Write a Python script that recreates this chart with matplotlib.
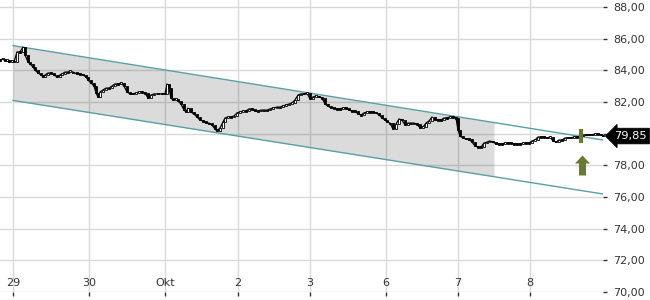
import numpy as np
import matplotlib
matplotlib.use("Agg")
import matplotlib.pyplot as plt
from matplotlib.path import Path
import matplotlib.transforms as mtransforms

# ---- data -------------------------------------------------------------
# time in intraday slots (0 = start of the 29th)
t = [-13, -10, -8, -6, -4, -1,
     1, 4, 7, 10, 12, 15, 17, 20, 22, 25, 28, 30, 32, 35, 38, 41, 44, 47, 49, 52,
     55, 57, 60, 64, 67, 70, 73, 75, 78, 81, 83, 85, 87, 90, 93, 96, 99, 102, 105,
     108, 111, 114, 117, 120, 123, 126, 129, 132, 135, 138, 141, 145, 149, 152, 154,
     156, 158, 160, 163, 165, 168, 171, 173, 175, 178, 181, 184, 187, 190, 193, 196,
     199, 202, 204, 207, 210, 212, 215, 218, 221, 224, 227, 230, 233, 236, 239, 242,
     245, 248, 251, 254, 257, 260, 264, 267, 270, 273, 276, 279, 282, 285, 288, 291,
     294, 297, 300, 303, 306, 309, 312, 315, 318, 321, 324, 327, 330, 333, 336, 339,
     342, 345, 348, 351, 354, 357, 360, 363, 366, 369, 372, 374, 377, 380, 383, 386,
     389, 392, 395, 398, 401, 404, 407, 410, 413, 416, 419, 422, 425, 428, 431, 434,
     437, 440, 443, 445, 447, 450, 453, 456, 459, 462, 465, 468, 471, 474, 477, 480,
     483, 486, 489, 492, 495, 498, 501, 504, 507, 510, 513, 516, 519, 522, 525, 528,
     531, 534, 537, 540, 543, 546, 549, 552, 555, 558, 561, 564, 567, 570, 573, 576,
     579, 582, 585, 588, 590]
close = [84.65, 84.72, 84.59, 84.65, 84.53, 84.59,
         84.53, 85.16, 85.16, 85.47, 84.97, 84.53, 84.40, 84.21, 84.02, 83.83, 83.71,
         83.58, 83.71, 83.83, 83.83, 83.71, 83.58, 83.71, 83.77, 83.89,
         83.89, 83.96, 83.89, 83.77, 83.77, 83.71, 83.58, 83.39, 83.20, 83.01, 82.57,
         82.32, 82.63, 82.76, 82.88, 82.88, 83.01, 83.14, 83.14,
         83.20, 83.01, 82.63, 82.51, 82.51, 82.57, 82.63, 82.63, 82.57, 82.25, 82.44,
         82.51, 82.51, 82.51, 82.51, 83.14,
         82.88, 82.25, 82.13, 82.19, 82.06, 81.87, 81.49, 81.37, 81.62, 81.37, 81.24,
         81.05, 80.86, 80.80, 80.67, 80.67,
         80.55, 80.29, 80.17, 80.36, 80.74, 80.99, 81.05, 81.05, 81.12, 81.31, 81.37,
         81.43, 81.43, 81.56, 81.56, 81.43,
         81.43, 81.49, 81.49, 81.49, 81.56, 81.62, 81.68, 81.68, 81.75, 81.81, 81.87,
         81.94, 82.13, 82.44, 82.51, 82.51,
         82.57, 82.19, 82.32, 82.38, 82.32, 82.25, 81.87, 81.75, 81.62, 81.62, 81.56,
         81.56, 81.62, 81.62, 81.49, 81.43,
         81.43, 81.24, 81.18, 81.31, 81.37, 81.37, 81.37, 81.31, 81.18, 80.99, 80.86,
         80.74, 80.67, 80.29, 80.61, 80.93,
         80.86, 80.55, 80.67, 80.67, 80.67, 80.61, 80.36, 80.42, 80.67, 80.80, 81.05,
         80.86, 80.86, 80.86, 80.99, 80.99,
         81.05, 81.05, 80.99, 80.23, 79.85, 79.73, 79.66, 79.66, 79.47, 79.22, 79.16,
         79.16, 79.41, 79.47, 79.54, 79.47,
         79.35, 79.35, 79.35, 79.41, 79.41, 79.41, 79.35, 79.35, 79.35, 79.41, 79.41,
         79.41, 79.54, 79.60, 79.79, 79.79,
         79.79, 79.73, 79.79, 79.54, 79.47, 79.60, 79.60, 79.73, 79.73, 79.73, 79.79,
         79.79, 79.85, 79.92, 79.92, 79.92,
         79.92, 79.98, 79.98, 79.92, 79.85]

day_ticks = [0, 76, 152, 225, 297, 373, 445, 517]
day_labels = ["29", "30", "Okt", "2", "3", "6", "7", "8"]
y_ticks = [70, 72, 74, 76, 78, 80, 82, 84, 86, 88]
hidden_y_label = 80  # covered by the last-price box in the original

channel_t = [0, 590]
channel_upper = [85.56, 79.60]
channel_lower = [82.10, 76.19]
channel_shade_end = 481

signal_t = 568
signal_high = 80.29
signal_low = 79.41

# ---- styles -----------------------------------------------------------
GRID = "#d9d9d9"
TEAL = "#5a9fa6"
OLIVE = "#6b7a33"
TXT = "#333333"

plt.rcParams["font.family"] = ["DejaVu Sans"]

fig = plt.figure(figsize=(6.5, 3.0), dpi=100)
ax = fig.add_axes([0, 8 / 300, 603 / 650, 292 / 300])
ax.set_xlim(-13, 590)
ax.set_ylim(70, 70 + 292 / (285 / 18))

for s in ax.spines.values():
    s.set_visible(False)

# grid / ticks
ax.set_xticks(day_ticks)
ax.set_xticklabels(day_labels)
ax.set_yticks(y_ticks)
ax.set_yticklabels(["" if v == hidden_y_label else f"{v:.2f}".replace(".", ",")
                    for v in y_ticks])
ax.grid(True, color=GRID, lw=1, zorder=0)
ax.set_axisbelow(True)
ax.yaxis.tick_right()
ax.tick_params(axis="y", direction="out", length=3, width=1, color=TXT,
               labelsize=8, labelcolor=TXT, pad=4.5)
ax.tick_params(axis="x", direction="out", length=3, width=1, color=TXT,
               labelsize=8, labelcolor=TXT, pad=-13)

# channel
ct = np.linspace(channel_t[0], channel_shade_end, 50)
up = np.interp(ct, channel_t, channel_upper)
lo = np.interp(ct, channel_t, channel_lower)
ax.fill_between(ct, lo, up, color="black", alpha=0.14, lw=0, zorder=1)
ax.plot(channel_t, channel_upper, color=TEAL, lw=1, zorder=2)
ax.plot(channel_t, channel_lower, color=TEAL, lw=1, zorder=2)

# price candles (open = previous close)
t_arr = np.array(t, dtype=float)
c_arr = np.array(close)
o_arr = np.concatenate([[c_arr[0]], c_arr[:-1]])
ax.plot(t_arr, c_arr, color="black", lw=0.9, zorder=3, clip_on=False)
flat = np.abs(c_arr - o_arr) < 0.07
bottoms = np.where(flat, c_arr - 0.035, np.minimum(o_arr, c_arr))
heights = np.where(flat, 0.07, np.abs(c_arr - o_arr))
colors = ["white" if c > o else "black" for o, c in zip(o_arr, c_arr)]
ax.bar(t_arr, heights, bottom=bottoms, width=2.2, color=colors,
       edgecolor="black", lw=0.6, zorder=4, clip_on=False)

# signal marker
ax.vlines(signal_t, signal_low, signal_high, color=OLIVE, lw=3, zorder=5)
arrow = Path([(0, 10), (7.5, 2), (3.5, 2), (3.5, -10), (-3.5, -10),
              (-3.5, 2), (-7.5, 2), (0, 10)])
tr = mtransforms.offset_copy(ax.transData, fig=fig, x=0.5, y=-29, units="dots")
ax.plot([signal_t], [close[-1]], marker=arrow, markersize=20 * 72 / 100,
        color=OLIVE, mec="none", transform=tr, zorder=5)

# last price label
last = close[-1]
ax.annotate(f"{last:.2f}".replace(".", ","), xy=(1.0, last),
            xycoords=("axes fraction", "data"), xytext=(11, 0),
            textcoords="offset pixels", ha="left", va="center",
            color="white", fontsize=8.2,
            bbox=dict(boxstyle="larrow,pad=0.25", fc="black", ec="black", lw=0.5),
            annotation_clip=False, zorder=6)

fig.savefig("out.png", dpi=100)
